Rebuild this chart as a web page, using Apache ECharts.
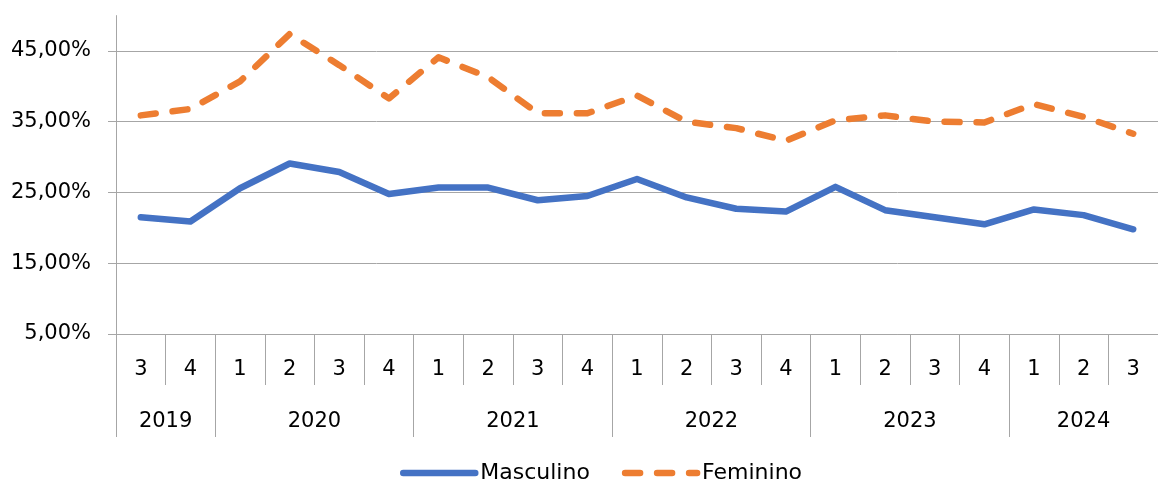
<!DOCTYPE html>
<html><head><meta charset="utf-8">
<script src="https://cdn.jsdelivr.net/npm/echarts@6/dist/echarts.min.js"></script>
<style>html,body{margin:0;padding:0;background:#fff}#c{width:1158px;height:483px}</style>
</head><body><div id="c"></div>
<script>
const quarters = ['3','4','1','2','3','4','1','2','3','4','1','2','3','4','1','2','3','4','1','2','3'];
const years = ['2019','2020','2021','2022','2023','2024'];
const quartersPerYear = [2,4,4,4,4,3];
const masculino = [21.5,20.9,25.6,29.1,27.9,24.8,25.7,25.7,23.9,24.5,26.9,24.3,22.7,22.3,25.8,22.5,21.5,20.5,22.6,21.8,19.8];
const feminino  = [35.9,36.8,40.7,47.4,43.0,38.3,44.1,41.3,36.2,36.2,38.7,35.0,34.1,32.3,35.2,35.9,35.0,34.9,37.5,35.7,33.3];
const yTicks = [5,15,25,35,45];
const seriesNames = ['Masculino','Feminino'];

const FONT = 'DejaVu Sans';
const GRAY = '#a6a6a6';

// year group centers and boundaries in category-index units
const yearCenters = [], yearBounds = [];
let start = 0;
quartersPerYear.forEach((n) => {
  yearBounds.push(start - 0.5);
  yearCenters.push(start + n / 2 - 0.5);
  start += n;
});

const chart = echarts.init(document.getElementById('c'));
chart.setOption({
  animation: false,
  backgroundColor: '#fff',
  grid: { left: 116, right: -12, top: 15.6, bottom: 149, containLabel: false },
  legend: {
    data: seriesNames,
    left: 395, top: 456,
    itemWidth: 72, itemHeight: 24, itemGap: 32,
    itemStyle: { opacity: 0 },
    lineStyle: { width: 6.5, cap: 'round' },
    textStyle: { fontFamily: FONT, fontSize: 22, color: '#000', lineHeight: 24 }
  },
  xAxis: [
    {
      type: 'category', position: 'bottom', data: quarters, boundaryGap: true,
      axisLine: { show: true, onZero: false, lineStyle: { color: GRAY, width: 1 } },
      axisTick: { show: true, interval: 0, length: 51, alignWithLabel: false, lineStyle: { color: GRAY } },
      axisLabel: { interval: 0, margin: 36, verticalAlign: 'middle', fontFamily: FONT, fontSize: 21, color: '#000' },
      splitLine: { show: false }
    },
    {
      type: 'value', position: 'bottom', min: -0.5, max: quarters.length - 0.5,
      axisLine: { show: false, onZero: false },
      axisTick: { show: true, customValues: yearBounds, length: 103, lineStyle: { color: GRAY } },
      axisLabel: {
        customValues: yearCenters, margin: 88, verticalAlign: 'middle',
        fontFamily: FONT, fontSize: 21, color: '#000',
        formatter: (v) => {
          const i = yearCenters.findIndex(c => Math.abs(c - v) < 1e-6);
          return i >= 0 ? years[i] : '';
        }
      },
      splitLine: { show: false }
    }
  ],
  yAxis: {
    type: 'value', min: 5, max: 50, interval: 10,
    axisLine: { show: true, onZero: false, lineStyle: { color: GRAY, width: 1 } },
    axisTick: { show: true, length: 8, customValues: yTicks, lineStyle: { color: GRAY } },
    axisLabel: {
      customValues: yTicks, margin: 25, fontFamily: FONT, fontSize: 21, color: '#000',
      formatter: (v) => v.toFixed(2).replace('.', ',') + '%'
    },
    splitLine: { show: true, lineStyle: { color: GRAY, width: 1 } }
  },
  series: [
    {
      name: seriesNames[0], type: 'line', xAxisIndex: 0, data: masculino,
      symbol: 'none', smooth: false,
      lineStyle: { color: '#4472C4', width: 6.5, cap: 'round', join: 'round' },
      itemStyle: { color: '#4472C4' }
    },
    {
      name: seriesNames[1], type: 'line', xAxisIndex: 0, data: feminino,
      symbol: 'none', smooth: false,
      lineStyle: { color: '#ED7D31', width: 6.5, type: [15, 17], cap: 'round', join: 'round' },
      itemStyle: { color: '#ED7D31' }
    }
  ]
});
</script>
</body></html>
